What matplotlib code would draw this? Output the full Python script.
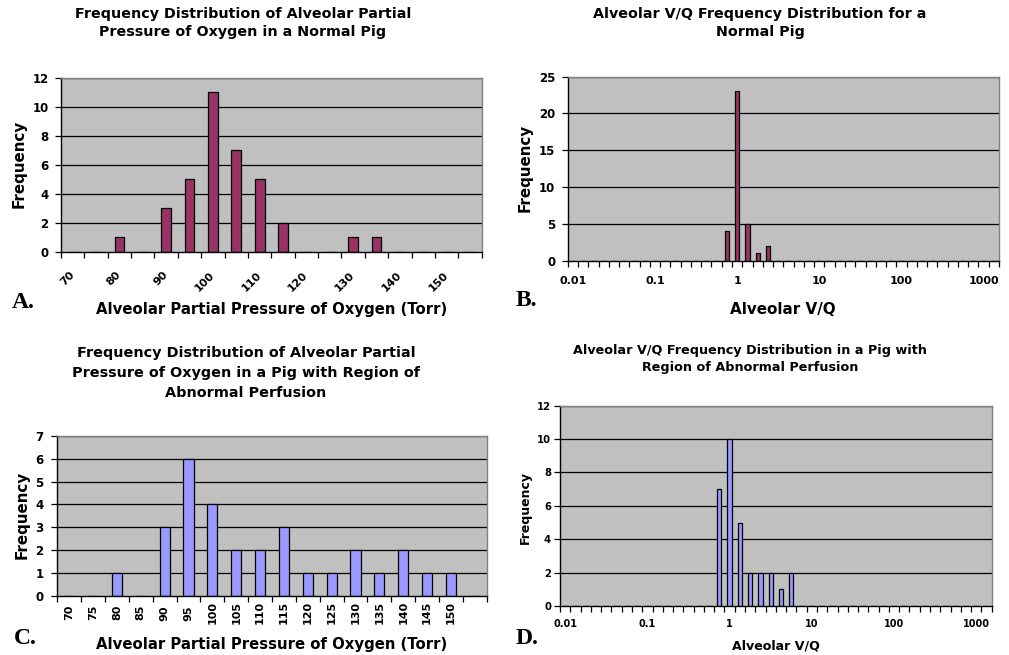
import matplotlib
matplotlib.use("Agg")
import matplotlib.pyplot as plt
import matplotlib.transforms as mtransforms
import numpy as np

# ---------------- data ----------------
po2_cats_A = ["70", "75", "80", "85", "90", "95", "100", "105", "110", "115",
              "120", "125", "130", "135", "140", "145", "150", ""]
po2_freq_A = [0, 0, 1, 0, 3, 5, 11, 7, 5, 2, 0, 0, 1, 1, 0, 0, 0, 0]

po2_cats_C = ["70", "75", "80", "85", "90", "95", "100", "105", "110", "115",
              "120", "125", "130", "135", "140", "145", "150", ""]
po2_freq_C = [0, 0, 1, 0, 3, 6, 4, 2, 2, 3, 1, 1, 2, 1, 2, 1, 1, 0]

# V/Q categories: 8 log bins per decade from 0.01, labelled only at decades
vq_labels = ["0.01", "", "", "", "", "", "", "",
             "0.1", "", "", "", "", "", "", "",
             "1", "", "", "", "", "", "", "",
             "10", "", "", "", "", "", "", "",
             "100", "", "", "", "", "", "", "",
             "1000", ""]
vq_freq_B = [0, 0, 0, 0, 0, 0, 0, 0,
             0, 0, 0, 0, 0, 0, 0, 4,
             23, 5, 1, 2, 0, 0, 0, 0,
             0, 0, 0, 0, 0, 0, 0, 0,
             0, 0, 0, 0, 0, 0, 0, 0,
             0, 0]
vq_freq_D = [0, 0, 0, 0, 0, 0, 0, 0,
             0, 0, 0, 0, 0, 0, 0, 7,
             10, 5, 2, 2, 2, 1, 2, 0,
             0, 0, 0, 0, 0, 0, 0, 0,
             0, 0, 0, 0, 0, 0, 0, 0,
             0, 0]

titles = {
    "A": "Frequency Distribution of Alveolar Partial\nPressure of Oxygen in a Normal Pig",
    "B": "Alveolar V/Q Frequency Distribution for a\nNormal Pig",
    "C": "Frequency Distribution of Alveolar Partial\nPressure of Oxygen in a Pig with Region of\nAbnormal Perfusion",
    "D": "Alveolar V/Q Frequency Distribution in a Pig with\nRegion of Abnormal Perfusion",
}
xlabel_po2 = "Alveolar Partial Pressure of Oxygen (Torr)"
xlabel_vq = "Alveolar V/Q"
ylabel = "Frequency"

# ---------------- style ----------------
W, H = 1009, 655
SANS = "DejaVu Sans"
SERIF = "Liberation Serif"
PLUM = "#993366"
PERI = "#9999FF"
BG = "#C0C0C0"

fig = plt.figure(figsize=(W / 100, H / 100), dpi=100)
fig.patch.set_facecolor("white")


def px_axes(l, t, r, b):
    return fig.add_axes([l / W, 1 - b / H, (r - l) / W, (b - t) / H])


def style_axes(ax, cats, freq, color, ymax, ystep, label_every, rot,
               xfs, yfs, xpad, ypad, xshift=0.0):
    n = len(cats)
    x = np.arange(n)
    ax.set_facecolor(BG)
    ax.bar(x, freq, width=0.42, color=color, edgecolor="black", linewidth=0.9, zorder=3)
    ax.set_xlim(-0.5, n - 0.5)
    ax.set_ylim(0, ymax)
    yt = np.arange(0, ymax + 0.001, ystep)
    ax.set_yticks(yt)
    ax.set_yticklabels([f"{int(v)}" for v in yt], fontsize=yfs, fontweight="bold", family=SANS)
    for v in yt[1:]:
        ax.axhline(v, color="black", linewidth=0.9, zorder=1)
    idx = [i for i in range(0, n, label_every) if cats[i] != ""]
    ax.set_xticks(idx)
    if rot == 45:
        labs = ax.set_xticklabels([cats[i] for i in idx], fontsize=xfs, fontweight="bold",
                                  family=SANS, rotation=45, ha="right", va="center",
                                  rotation_mode="anchor")
    elif rot == 90:
        labs = ax.set_xticklabels([cats[i] for i in idx], fontsize=xfs, fontweight="bold",
                                  family=SANS, rotation=90, ha="center", va="center")
    else:
        labs = ax.set_xticklabels([cats[i] for i in idx], fontsize=xfs, fontweight="bold",
                                  family=SANS)
    if xshift:
        off = mtransforms.ScaledTranslation(xshift / 100, 0, fig.dpi_scale_trans)
        for lab in labs:
            lab.set_transform(lab.get_transform() + off)
    ax.tick_params(axis="x", which="major", length=0, pad=xpad)
    ax.set_xticks(np.arange(n + 1) - 0.5, minor=True)
    ax.tick_params(axis="x", which="minor", length=4, width=0.9, direction="out", color="black")
    ax.tick_params(axis="y", which="major", length=4, width=0.9, direction="out", pad=ypad)
    for s in ("top", "right"):
        ax.spines[s].set_color("#808080")
        ax.spines[s].set_linewidth(1.0)
    for s in ("left", "bottom"):
        ax.spines[s].set_color("black")
        ax.spines[s].set_linewidth(1.0)
    ax.spines["bottom"].set_zorder(4)


# Panel A
axA = px_axes(61, 77.7, 481.7, 251.7)
style_axes(axA, po2_cats_A, po2_freq_A, PLUM, 12, 2, 2, 45, 8, 8.5, 15.5, 5, xshift=-13)
# Panel B
axB = px_axes(567.7, 76.7, 999, 260.7)
style_axes(axB, vq_labels, vq_freq_B, PLUM, 25, 5, 1, 0, 8, 8.5, 11, 5)
# Panel C
axC = px_axes(57.3, 436, 486.7, 595.7)
style_axes(axC, po2_cats_C, po2_freq_C, PERI, 7, 1, 1, 90, 8, 8.5, 12.3, 6)
# Panel D
axD = px_axes(560, 405.7, 991.7, 606)
style_axes(axD, vq_labels, vq_freq_D, PERI, 12, 2, 1, 0, 7, 7.2, 9.4, 2.5)


def ftext(x, y, s, **kw):
    fig.text(x / W, 1 - y / H, s, **kw)


# titles
ftext(243, 23, titles["A"], ha="center", va="center", fontsize=10.3, fontweight="bold",
      family=SANS, linespacing=1.35)
ftext(760, 23, titles["B"], ha="center", va="center", fontsize=10.3, fontweight="bold",
      family=SANS, linespacing=1.35)
ftext(246, 373, titles["C"], ha="center", va="center", fontsize=10.4, fontweight="bold",
      family=SANS, linespacing=1.55)
ftext(750, 359, titles["D"], ha="center", va="center", fontsize=9.15, fontweight="bold",
      family=SANS, linespacing=1.45)

# axis labels
ftext(272, 309, xlabel_po2, ha="center", va="center", fontsize=10.7, fontweight="bold", family=SANS)
ftext(783, 309, xlabel_vq, ha="center", va="center", fontsize=10.9, fontweight="bold", family=SANS)
ftext(272, 645, xlabel_po2, ha="center", va="center", fontsize=10.7, fontweight="bold", family=SANS)
ftext(776, 646, xlabel_vq, ha="center", va="center", fontsize=9.1, fontweight="bold", family=SANS)

ftext(19, 164, ylabel, ha="center", va="center", rotation=90, fontsize=10.9, fontweight="bold", family=SANS)
ftext(525, 168, ylabel, ha="center", va="center", rotation=90, fontsize=10.9, fontweight="bold", family=SANS)
ftext(22, 515, ylabel, ha="center", va="center", rotation=90, fontsize=10.9, fontweight="bold", family=SANS)
ftext(525, 507, ylabel, ha="center", va="center", rotation=90, fontsize=9, fontweight="bold", family=SANS)

# panel letters
for lab, (x, y) in {"A.": (12, 302), "B.": (516, 300), "C.": (14, 639), "D.": (516, 638)}.items():
    ftext(x, y, lab, ha="left", va="center", fontsize=17, fontweight="bold", family=SERIF)

fig.savefig("out.png", dpi=100, facecolor="white")
